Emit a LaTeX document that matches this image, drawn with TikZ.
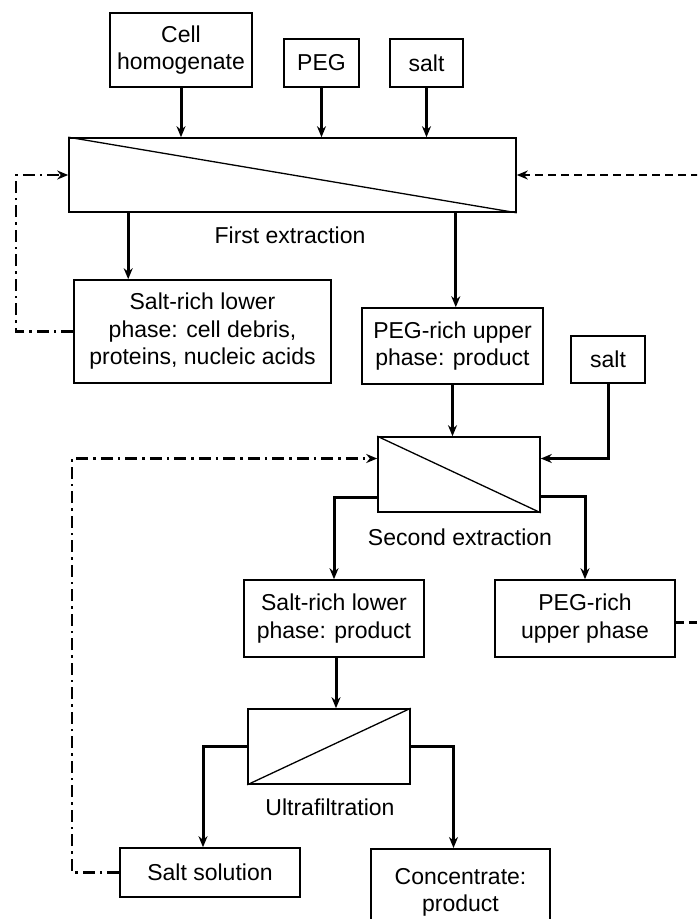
\documentclass[tikz,border=0pt]{standalone}
\usepackage{fontspec}
\setmainfont{Liberation Sans}
\usetikzlibrary{arrows.meta,calc}
\begin{document}
\begin{tikzpicture}[x=1pt,y=-1pt,
  box/.style={draw, line width=1.6pt, inner sep=0pt, align=center, font=\fontsize{23}{27.5}\selectfont},
  lbl/.style={inner sep=0pt, font=\fontsize{23}{27.5}\selectfont},
  arr/.style={line width=3pt, -{Stealth[length=11pt,width=9pt]}},
  dd/.style={line width=2.8pt, dash pattern=on 12pt off 5pt on 2.5pt off 5pt, -{Stealth[length=11pt,width=9pt]}},
  dsh/.style={line width=2.8pt, dash pattern=on 8pt off 5pt, -{Stealth[length=11pt,width=9pt]}},
  diag/.style={line width=1.3pt}]
\useasboundingbox (0,0) rectangle (697,919);
\clip (0,0) rectangle (697,919);
\fill[white] (0,0) rectangle (697,919);

% boxes
\node[box, minimum width=142pt, minimum height=74pt] (ch) at (181,50) {Cell\\homogenate};
\node[box, minimum width=75pt, minimum height=48pt] (peg) at (321.5,63) {PEG};
\node[box, minimum width=73pt, minimum height=48pt] (salt1) at (426.5,63) {salt};
\node[box, minimum width=447pt, minimum height=74pt] (fe) at (292.5,175) {};
\node[box, minimum width=257pt, minimum height=103pt] (srl) at (202.5,331.5) {Salt-rich lower\\phase: cell debris,\\proteins, nucleic acids};
\node[box, minimum width=181pt, minimum height=76pt] (prp) at (452.5,346) {PEG-rich upper\\phase: product};
\node[box, minimum width=74pt, minimum height=47pt] (salt2) at (608,359.5) {salt};
\node[box, minimum width=162pt, minimum height=75pt] (se) at (459,474.5) {};
\node[box, minimum width=180pt, minimum height=77pt] (srp) at (334,618.5) {Salt-rich lower\\phase: product};
\node[box, minimum width=180pt, minimum height=77pt] (pru) at (585,618.5) {PEG-rich\\upper phase};
\node[box, minimum width=162pt, minimum height=75pt] (uf) at (329,746.5) {};
\node[box, minimum width=180pt, minimum height=49pt] (ss) at (210,872.5) {Salt solution};
\node[box, minimum width=179pt, minimum height=87pt, anchor=north] (conc) at (460.5,848) {Concentrate:\\product};

% labels
\node[lbl] (l1) at (290,235) {First extraction};
\node[lbl] (l2) at (460,537) {Second extraction};
\node[lbl] (l3) at (330,807) {Ultrafiltration};

% diagonals
\draw[diag] (fe.north west) -- (fe.south east);
\draw[diag] (se.north west) -- (se.south east);
\draw[diag] (uf.south west) -- (uf.north east);

% solid flows
\draw[arr] (ch.south) -- (ch.south |- fe.north);
\draw[arr] (peg.south) -- (peg.south |- fe.north);
\draw[arr] (salt1.south) -- (salt1.south |- fe.north);
\draw[arr] ([xshift=60pt]fe.south west) coordinate (a1) -- (a1 |- srl.north);
\draw[arr] ([xshift=-61pt]fe.south east) coordinate (a2) -- (a2 |- prp.north);
\draw[arr] (prp.south) -- (prp.south |- se.north);
\draw[arr] (salt2.south) |- ([yshift=16pt]se.east);
\draw[arr] ([yshift=-21.5pt]se.east) -| (pru.north);
\draw[arr] ([yshift=-22.5pt]se.west) -| (srp.north);
\draw[arr] ([xshift=2pt]srp.south) coordinate (a3) -- (a3 |- uf.north);
\draw[arr] (uf.west) -| ([xshift=-7pt]ss.north);
\draw[arr] (uf.east) -| ([xshift=-7pt]conc.north);

% recycle lines
\coordinate (L1) at (16,0);
\coordinate (L2) at (72,0);
\coordinate (R) at (730,0);
\coordinate (sein) at ([yshift=16pt]se.west);
\draw[dd] (srl.west) -| (L1 |- fe.west) -- (fe.west);
\draw[dd] (ss.west) -| (L2 |- sein) -- (sein);
\draw[dsh] ([yshift=-4pt]pru.east) -| (R |- fe.east) -- (fe.east);
\end{tikzpicture}
\end{document}
